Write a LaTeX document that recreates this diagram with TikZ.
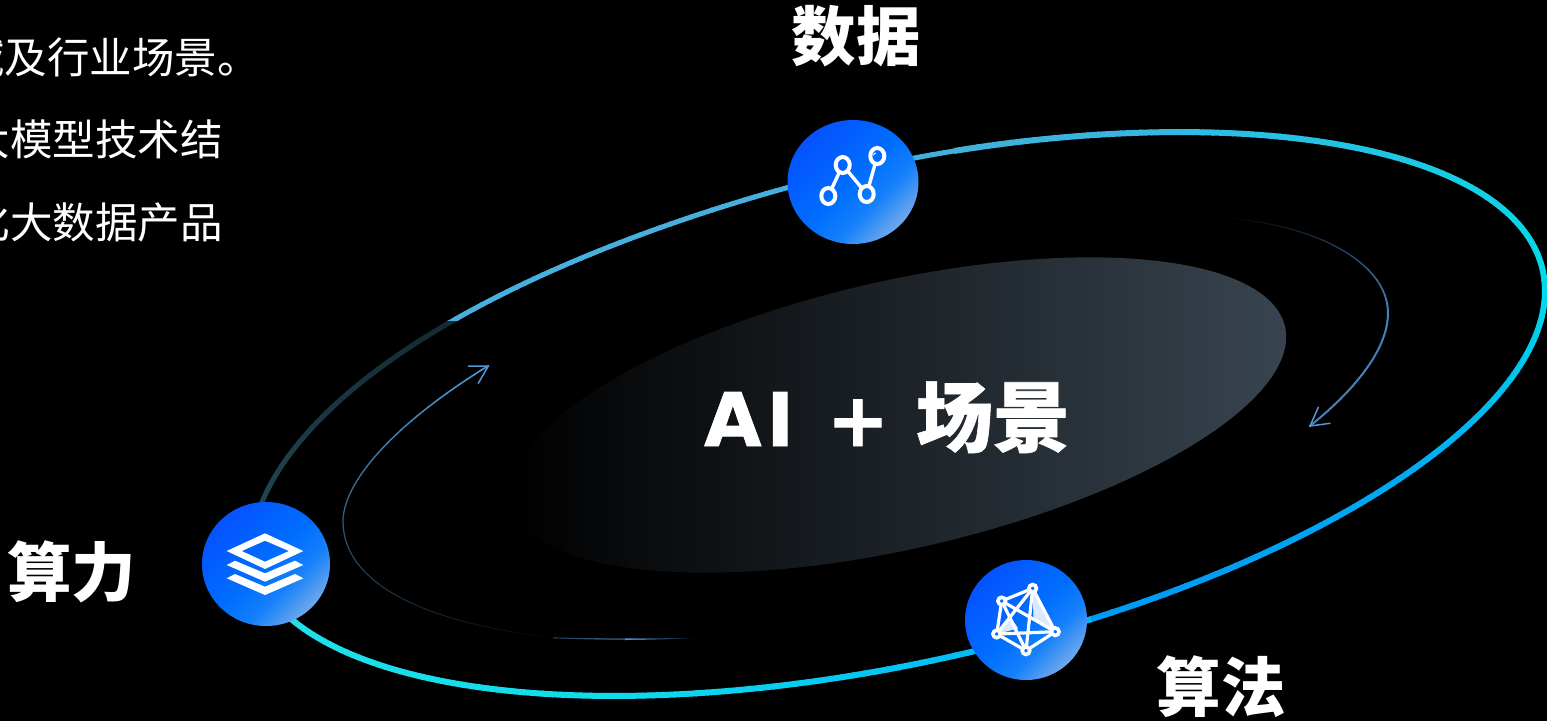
\documentclass[tikz,border=0pt]{standalone}
\usepackage{fontspec}
\setmainfont{DejaVu Sans}
\newfontfamily\cjk{Noto Sans CJK SC}
\usetikzlibrary{shapes.geometric}
\definecolor{ringA}{HTML}{13262F}
\definecolor{ringB}{HTML}{1E4551}
\definecolor{ringC}{HTML}{4BAEDF}
\definecolor{ringD}{HTML}{42B0DC}
\definecolor{ringE}{HTML}{30BAE2}
\definecolor{ringF}{HTML}{00DCE8}
\definecolor{ringG}{HTML}{00A8F2}
\definecolor{ringH}{HTML}{0098F4}
\definecolor{ringI}{HTML}{00B4F6}
\definecolor{ringJ}{HTML}{10DCEC}
\definecolor{ringK}{HTML}{20E0E8}
\definecolor{arcBlue}{HTML}{5098D8}
\definecolor{arcMid}{HTML}{2D5A7C}
\definecolor{arcNil}{HTML}{020508}
\definecolor{discTL}{HTML}{0552FF}
\definecolor{discM}{HTML}{006EFF}
\definecolor{discS}{HTML}{1580FA}
\definecolor{discBR}{HTML}{6FA9EC}
\definecolor{plateM}{HTML}{1A1F25}
\definecolor{plateR}{HTML}{38444F}
\pgfdeclareverticalshading{discshade}{100bp}{color(0bp)=(discBR); color(25bp)=(discBR); color(38bp)=(discS); color(50bp)=(discM); color(75bp)=(discTL); color(100bp)=(discTL)}
\def\ringcx{897}\def\ringcy{414}\def\ringa{661.6}\def\ringb{248.5}\def\ringth{12.55}
\def\ringpt#1#2#3{%
  \pgfmathsetmacro\rf{1-0.02*exp(max(-9,-((#1-132)/42)^4))}%
  \pgfmathsetmacro#2{\ringcx+\rf*(\ringa*cos(#1)*cos(\ringth)-\ringb*sin(#1)*sin(\ringth))}%
  \pgfmathsetmacro#3{\ringcy+\rf*(-\ringa*cos(#1)*sin(\ringth)-\ringb*sin(#1)*cos(\ringth))}}
% ring arc from angle #1 to #2, colours #3 to #4
\newcommand{\ringarc}[4]{%
  \pgfmathsetmacro\nseg{int(max(2,abs(#2-#1)))}%
  \foreach \i in {1,...,\nseg}{%
    \pgfmathsetmacro\tA{#1+(#2-#1)*(\i-1)/\nseg}%
    \pgfmathsetmacro\tB{#1+(#2-#1)*(\i+0.15)/\nseg}%
    \ringpt{\tA}{\xA}{\yA}%
    \ringpt{\tB}{\xB}{\yB}%
    \pgfmathsetmacro\pc{100*\i/\nseg}%
    \draw[ringline,color=#4!\pc!#3] (\xA,\yA) -- (\xB,\yB);%
  }}
\def\gbparse#1,#2,#3,#4,#5,#6,#7,#8;{\def\xa{#1}\def\ya{#2}\def\xb{#3}\def\yb{#4}\def\xc{#5}\def\yc{#6}\def\xd{#7}\def\yd{#8}}
% cubic curve with colour and width running from start to end
\newcommand{\gradbez}[5]{%
  \gbparse#1;%
  \foreach \i in {1,...,36}{%
    \pgfmathsetmacro\tA{(\i-1)/36}%
    \pgfmathsetmacro\tB{(\i+0.1)/36}%
    \pgfmathsetmacro\xA{(1-\tA)^3*\xa+3*(1-\tA)^2*\tA*\xb+3*(1-\tA)*\tA^2*\xc+\tA^3*\xd}%
    \pgfmathsetmacro\yA{(1-\tA)^3*\ya+3*(1-\tA)^2*\tA*\yb+3*(1-\tA)*\tA^2*\yc+\tA^3*\yd}%
    \pgfmathsetmacro\xB{(1-\tB)^3*\xa+3*(1-\tB)^2*\tB*\xb+3*(1-\tB)*\tB^2*\xc+\tB^3*\xd}%
    \pgfmathsetmacro\yB{(1-\tB)^3*\ya+3*(1-\tB)^2*\tB*\yb+3*(1-\tB)*\tB^2*\yc+\tB^3*\yd}%
    \pgfmathsetmacro\pc{100*\i/36}%
    \pgfmathsetmacro\lw{#4+(#5-#4)*\i/36}%
    \draw[line width=\lw pt,color=#3!\pc!#2] (\xA,\yA) -- (\xB,\yB);%
  }}
\tikzset{
  ringline/.style={line width=6pt,line cap=butt},
  thinring/.style={ringline/.append style={line width=5pt}},
  disc/.style={ellipse,inner sep=0pt,outer sep=0pt,shading=discshade,shading angle=45},
  headline/.style={color=arcBlue,line width=1.5pt,line cap=round},
  bodytext/.style={inner sep=0pt,anchor=base east,text=white,font=\cjk\fontsize{42.5}{42.5}\selectfont},
  headtext/.style={inner sep=0pt,anchor=base,text=white,font=\cjk\bfseries\fontsize{64.5}{64.5}\selectfont},
  dotA/.style={ellipse,draw=white,line width=4pt,inner sep=0pt,outer sep=0pt,minimum width=14pt,minimum height=16pt},
  linkA/.style={white,line width=3.4pt},
  dotB/.style={circle,draw=white,fill=discM,line width=3.6pt,inner sep=0pt,minimum size=7.5pt},
  linkB/.style={white,line width=3.2pt},
}
\begin{document}
\begin{tikzpicture}[x=1pt,y=-1pt]
\useasboundingbox (0,0) rectangle (1547,721);
\clip (0,0) rectangle (1547,721);
\fill[black] (0,0) rectangle (1547,721);
% central plate
\shade[left color=black,middle color=plateM,right color=plateR]
  plot[domain=0:356,samples=90,smooth cycle] ({898+397*cos(\x)*cos(12.85)-134*sin(\x)*sin(12.85)},{415-397*cos(\x)*sin(12.85)-134*sin(\x)*cos(12.85)});
% ring
\begin{scope}[thinring]
\begin{scope}
\clip (0,320) rectangle (1547,721);
\ringarc{125}{168}{ringA}{ringB}
\end{scope}
\begin{scope}
\clip (0,0) rectangle (1547,320);
\ringarc{80}{135}{ringD}{ringC}
\end{scope}
\end{scope}
\ringarc{60}{80}{ringE!70!ringD}{ringD}
\ringarc{-4.4}{60}{ringF}{ringE}
\ringarc{-44}{-4.4}{ringG}{ringF}
\ringarc{-77.5}{-44}{ringH}{ringG}
\ringarc{-121}{-77.5}{ringJ}{ringI}
\ringarc{-164}{-121}{ringK}{ringJ}
% inner arcs
\gradbez{1225,218,1320,225,1390,265,1388,315}{arcNil}{arcBlue!85!black}{0.5}{2}
\gradbez{1388,315,1387,350,1355,390,1310,426}{arcBlue!85!black}{arcBlue}{2}{2}
\gradbez{553,637.5,440,625,345,590,343,523}{arcNil}{arcMid}{0.7}{1.2}
\gradbez{343,523,342,480,400,420,488,366}{arcMid}{arcBlue}{1.2}{1.6}
\coordinate (headA) at (1310,426);
\coordinate (headAa) at (1318.3,407.3);
\coordinate (headAb) at (1330,423.3);
\draw[headline] (headAa) -- (headA) -- (headAb);
\coordinate (headB) at (488.3,366);
\coordinate (headBa) at (468.3,366);
\coordinate (headBb) at (478.3,383.3);
\draw[headline] (headBa) -- (headB) -- (headBb);
\gradbez{553,637.8,575,638.6,600,639,625,639.2}{arcBlue!50!black}{arcBlue}{0.8}{1.7}
\gradbez{625,639.2,650,639.2,675,638.6,697,638}{arcBlue}{arcNil}{1.7}{0.5}
% discs
\node[disc,minimum width=131pt,minimum height=124pt] (data) at (853,182) {};
\node[disc,minimum width=128pt,minimum height=124pt] (power) at (266,564) {};
\node[disc,minimum width=122pt,minimum height=120pt] (algo) at (1026,620) {};
% data icon
\node[dotA] (da) at (828.3,196) {};
\node[dotA] (db) at (842.7,165) {};
\node[dotA] (dc) at (866.7,194) {};
\node[dotA] (dd) at (877.3,156) {};
\draw[linkA] (da) -- (db);
\draw[linkA] (db) -- (dc);
\draw[linkA] (dc) -- (dd);
\draw[white,line width=0.9pt] (873.5,155.5) .. controls (874,153.5) .. (876,153);
% stack icon
\fill[white,even odd rule] (265,533.3) -- (303.3,551) -- (265,569) -- (226.7,551) -- cycle
  (265,540.7) -- (289,551) -- (265,561.7) -- (241.7,551) -- cycle;
\fill[white] (235,560.7) -- (226.7,565) -- (265,581.7) -- (303.3,565) -- (295,560.7) -- (265,573.3) -- cycle;
\fill[white] (235,574) -- (226.7,578.3) -- (265,595) -- (303.3,578.3) -- (295,574) -- (265,586.7) -- cycle;
% algorithm icon
\coordinate (af) at (1033.5,620);
\coordinate (ag) at (1018.3,628.3);
\coordinate (ah) at (1010,616.7);
\coordinate (aa) at (1001.7,601);
\coordinate (ab) at (1032.7,588.3);
\coordinate (ac) at (1055.3,631.7);
\coordinate (ad) at (1026,650.7);
\coordinate (ae) at (996.7,634);
\fill[white,opacity=.85] (ab) -- (ac) -- (af) -- cycle;
\fill[white,opacity=.85] (ae) -- (ag) -- (ah) -- cycle;
\draw[linkB] (aa) -- (ab);
\draw[linkB] (aa) -- (ae);
\draw[linkB] (aa) -- (ac);
\draw[linkB] (aa) -- (ad);
\draw[linkB] (ab) -- (ac);
\draw[linkB] (ab) -- (ae);
\draw[linkB] (ab) -- (ad);
\draw[linkB] (ac) -- (ad);
\draw[linkB] (ac) -- (ae);
\draw[linkB] (ad) -- (ae);
\node[dotB] at (aa) {};
\node[dotB] at (ab) {};
\node[dotB] at (ac) {};
\node[dotB] at (ad) {};
\node[dotB] at (ae) {};
% texts
\node[bodytext] (la) at (260,73) {域及行业场景。};
\node[bodytext] (lb) at (223,155) {大模型技术结};
\node[bodytext] (lc) at (223,238) {化大数据产品};
\node[headtext] (ha) at (856,60) {数据};
\node[headtext] (hb) at (71.5,596) {算力};
\node[headtext] (hc) at (1221,711) {算法};
\node[inner sep=0pt,text=white,anchor=base west,font=\bfseries\fontsize{74}{74}\selectfont] (core) at (704,446) {\addfontfeature{FakeBold=1.2}A\kern5pt I\hspace{33pt}+\hspace{27pt}{\cjk\bfseries\fontsize{77}{77}\selectfont\addfontfeature{FakeBold=0.8}场景}};
\end{tikzpicture}
\end{document}
